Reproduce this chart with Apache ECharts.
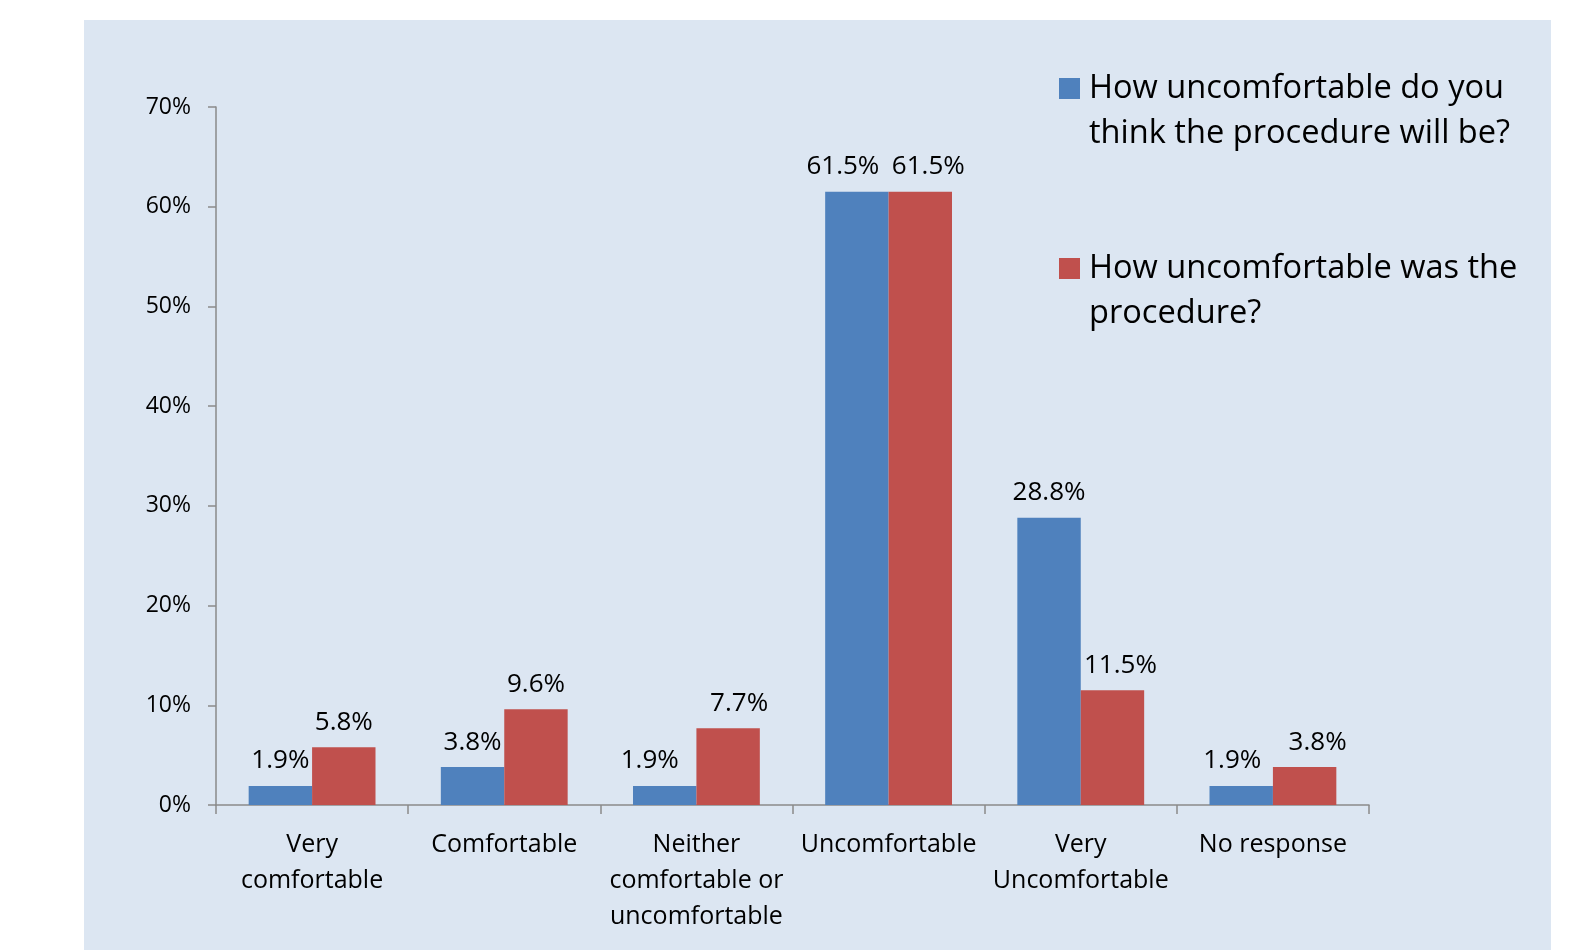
<!DOCTYPE html>
<html>
<head>
<meta charset="utf-8">
<script src="https://cdn.jsdelivr.net/npm/echarts@6/dist/echarts.min.js"></script>
<style>
  html, body { margin: 0; padding: 0; background: #ffffff; }
  #chart { width: 1580px; height: 950px; }
</style>
</head>
<body>
<div id="chart"></div>
<script>
// Survey responses: expected vs. experienced discomfort of the procedure
const categories = [
  'Very\ncomfortable',
  'Comfortable',
  'Neither\ncomfortable or\nuncomfortable',
  'Uncomfortable',
  'Very\nUncomfortable',
  'No response'
];
const seriesNames = [
  'How uncomfortable do you think the procedure will be?',
  'How uncomfortable was the procedure?'
];
const expectedPct = [1.9, 3.8, 1.9, 61.5, 28.8, 1.9];
const actualPct = [5.8, 9.6, 7.7, 61.5, 11.5, 3.8];
const yTicks = [0, 10, 20, 30, 40, 50, 60, 70];

// small sideways nudges for value labels that sit off-centre
const expectedLabelNudge = [0, 0, -15, -14, 0, -9];
const actualLabelNudge = [0, 0, 11, 8, 8, 13];

const FONT = '"Open Sans", "Noto Sans", sans-serif';
const AXIS_COLOR = '#8a8a8a';

function withLabels(values, nudges) {
  return values.map((v, i) => ({
    value: v,
    label: { offset: [nudges[i], 0] }
  }));
}

// Legend text wraps onto two lines; a blank lead line keeps the first
// text line level with the colour swatch (legend text is centred on it).
function legendText(name) {
  const wrapped = name.replace(' think', '\nthink').replace(' procedure?', '\nprocedure?');
  return ' \n' + wrapped;
}

const chart = echarts.init(document.getElementById('chart'), null, { renderer: 'canvas' });

const valueLabel = {
  show: true,
  position: 'top',
  distance: 12,
  color: '#000',
  fontFamily: FONT,
  fontSize: 26,
  formatter: p => p.value.toFixed(1) + '%'
};

chart.setOption({
  backgroundColor: '#ffffff',
  animation: false,
  graphic: [{
    type: 'rect',
    z: -10,
    silent: true,
    shape: { x: 84, y: 20, width: 1467, height: 940 },
    style: { fill: '#dce6f2' }
  }],
  legend: {
    orient: 'vertical',
    left: 1059,
    top: 21,
    padding: 0,
    itemGap: 45,
    itemWidth: 21,
    itemHeight: 21,
    icon: 'rect',
    selectedMode: false,
    formatter: legendText,
    textStyle: {
      fontFamily: FONT,
      fontSize: 32.6,
      lineHeight: 45,
      color: '#000',
      padding: [0, 0, 0, 4]
    },
    data: seriesNames
  },
  grid: {
    left: 216,
    right: 211,
    top: 107,
    bottom: 145,
    containLabel: false
  },
  xAxis: {
    type: 'category',
    data: categories,
    boundaryGap: true,
    axisLine: { lineStyle: { color: AXIS_COLOR, width: 1.5 } },
    axisTick: { show: true, length: 9, inside: false, alignWithLabel: false, lineStyle: { color: AXIS_COLOR, width: 1.5 } },
    axisLabel: {
      interval: 0,
      margin: 22,
      color: '#000',
      fontFamily: FONT,
      fontSize: 25,
      lineHeight: 36
    },
    splitLine: { show: false }
  },
  yAxis: {
    type: 'value',
    min: yTicks[0],
    max: yTicks[yTicks.length - 1],
    interval: yTicks[1] - yTicks[0],
    axisLine: { show: true, lineStyle: { color: AXIS_COLOR, width: 1.5 } },
    axisTick: { show: true, length: 8, inside: false, lineStyle: { color: AXIS_COLOR, width: 1.5 } },
    axisLabel: {
      margin: 25,
      color: '#000',
      fontFamily: FONT,
      fontSize: 23,
      formatter: '{value}%'
    },
    splitLine: { show: false }
  },
  series: [
    {
      name: seriesNames[0],
      type: 'bar',
      barGap: '0%',
      barCategoryGap: '34%',
      itemStyle: { color: '#4f81bd' },
      label: valueLabel,
      data: withLabels(expectedPct, expectedLabelNudge)
    },
    {
      name: seriesNames[1],
      type: 'bar',
      barGap: '0%',
      barCategoryGap: '34%',
      itemStyle: { color: '#c0504d' },
      label: valueLabel,
      data: withLabels(actualPct, actualLabelNudge)
    }
  ]
});
</script>
</body>
</html>
